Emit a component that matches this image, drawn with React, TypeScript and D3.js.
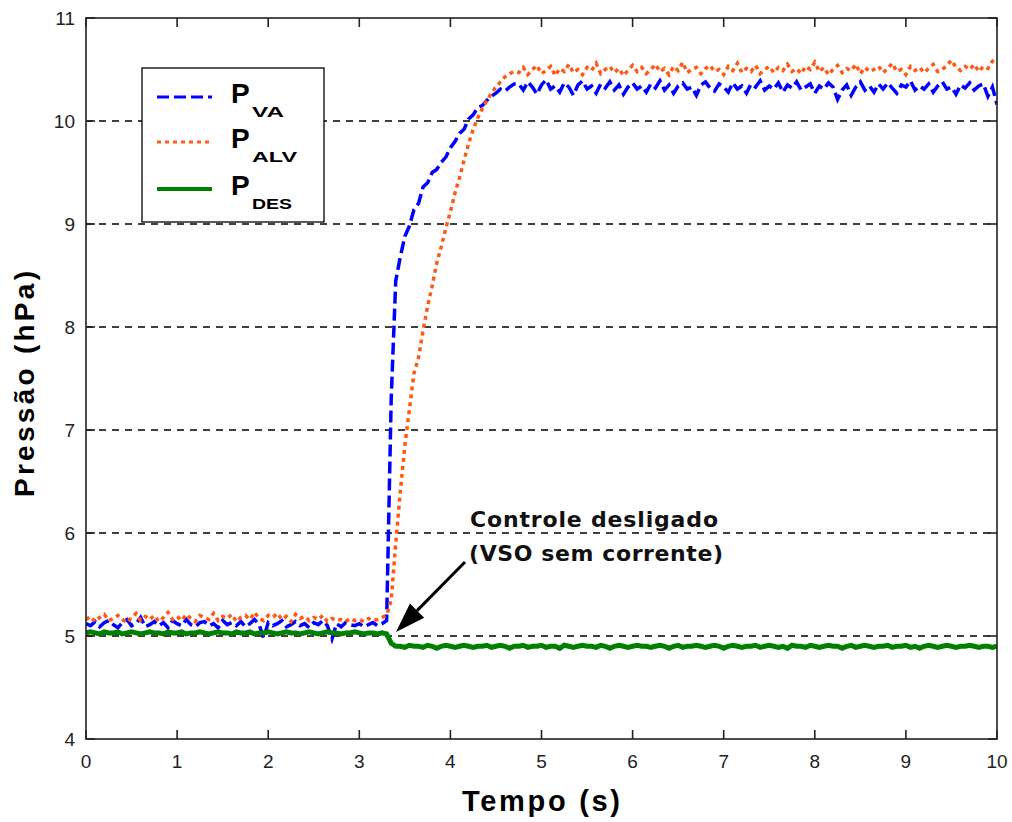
import React from 'react';
import * as d3 from 'd3';

// ---- data ----
const SAMPLE_STEP = 0.05; // s between samples
const X_TICKS = [0, 1, 2, 3, 4, 5, 6, 7, 8, 9, 10];
const Y_TICKS = [4, 5, 6, 7, 8, 9, 10, 11];
const GRID_LEVELS = [5, 6, 7, 8, 9, 10];

const P_VA = [
  5.12, 5.10, 5.14, 5.09, 5.13, 5.15, 5.11, 5.08, 5.13, 5.16,
  5.10, 5.12, 5.18, 5.09, 5.11, 5.14, 5.10, 5.13, 5.08, 5.15,
  5.12, 5.10, 5.16, 5.11, 5.09, 5.13, 5.14, 5.10, 5.12, 5.08,
  5.15, 5.11, 5.13, 5.10, 5.14, 5.09, 5.12, 5.16, 5.11, 4.98,
  5.13, 5.10, 5.12, 5.15, 5.09, 5.11, 5.14, 5.10, 5.12, 5.08,
  5.13, 5.11, 5.15, 5.10, 4.97, 5.12, 5.09, 5.13, 5.11, 5.10,
  5.12, 5.09, 5.11, 5.13, 5.10, 5.12,
  5.15, 7.30, 8.45, 8.68, 8.88, 8.98, 9.14, 9.20, 9.36, 9.40,
  9.50, 9.53, 9.60, 9.65, 9.74, 9.80, 9.88, 9.92, 10.02, 10.06,
  10.13, 10.15, 10.20, 10.24, 10.27, 10.31, 10.29, 10.33, 10.36,
  10.36, 10.30, 10.38, 10.33, 10.26, 10.35, 10.40, 10.31, 10.34, 10.28,
  10.37, 10.33, 10.25, 10.35, 10.39, 10.31, 10.34, 10.27, 10.36, 10.32,
  10.38, 10.30, 10.35, 10.26, 10.33, 10.37, 10.31, 10.34, 10.28, 10.36,
  10.32, 10.39, 10.30, 10.35, 10.27, 10.34, 10.37, 10.31, 10.33, 10.25,
  10.35, 10.38, 10.32, 10.29, 10.36, 10.33, 10.28, 10.37, 10.31, 10.34,
  10.27, 10.36, 10.33, 10.39, 10.30, 10.34, 10.31, 10.37, 10.28, 10.35,
  10.32, 10.38, 10.30, 10.33, 10.36, 10.27, 10.34, 10.31, 10.37, 10.33,
  10.21, 10.30, 10.35, 10.25, 10.33, 10.38, 10.30, 10.34, 10.28, 10.36,
  10.31, 10.37, 10.32, 10.27, 10.35, 10.33, 10.39, 10.30, 10.34, 10.31,
  10.36, 10.28, 10.34, 10.38, 10.31, 10.33, 10.26, 10.35, 10.32, 10.37,
  10.30, 10.34, 10.36, 10.24, 10.33, 10.16,
];

const P_ALV = [
  5.16, 5.19, 5.14, 5.18, 5.21, 5.15, 5.17, 5.20, 5.16, 5.13,
  5.18, 5.22, 5.15, 5.19, 5.16, 5.20, 5.14, 5.18, 5.23, 5.16,
  5.19, 5.15, 5.21, 5.17, 5.14, 5.20, 5.18, 5.16, 5.22, 5.15,
  5.19, 5.17, 5.21, 5.14, 5.18, 5.20, 5.16, 5.23, 5.17, 5.15,
  5.20, 5.18, 5.22, 5.16, 5.19, 5.14, 5.21, 5.17, 5.19, 5.15,
  5.18, 5.16, 5.20, 5.14, 5.17, 5.15, 5.16, 5.14, 5.17, 5.15,
  5.16, 5.14, 5.17, 5.15, 5.16, 5.18,
  5.20, 5.35, 5.90, 6.40, 6.85, 7.20, 7.55, 7.70, 7.97, 8.20,
  8.40, 8.62, 8.78, 8.96, 9.12, 9.30, 9.45, 9.62, 9.78, 9.92,
  10.03, 10.12, 10.20, 10.27, 10.33, 10.38, 10.43, 10.46, 10.48,
  10.47, 10.52, 10.45, 10.50, 10.54, 10.46, 10.49, 10.53, 10.44, 10.51,
  10.48, 10.55, 10.47, 10.50, 10.45, 10.52, 10.49, 10.56, 10.46, 10.50,
  10.53, 10.47, 10.51, 10.44, 10.49, 10.54, 10.48, 10.52, 10.46, 10.50,
  10.55, 10.48, 10.51, 10.45, 10.53, 10.49, 10.57, 10.47, 10.50, 10.52,
  10.46, 10.51, 10.54, 10.48, 10.50, 10.45, 10.53, 10.49, 10.56, 10.47,
  10.51, 10.48, 10.54, 10.46, 10.50, 10.53, 10.47, 10.52, 10.49, 10.55,
  10.48, 10.51, 10.46, 10.53, 10.50, 10.57, 10.48, 10.52, 10.45, 10.50,
  10.54, 10.47, 10.51, 10.49, 10.55, 10.46, 10.52, 10.48, 10.50, 10.53,
  10.47, 10.51, 10.56, 10.48, 10.50, 10.45, 10.53, 10.49, 10.52, 10.47,
  10.51, 10.55, 10.48, 10.50, 10.54, 10.59, 10.52, 10.49, 10.53, 10.50,
  10.55, 10.48, 10.53, 10.51, 10.58, 10.62,
];

const P_DES = [
  5.03, 5.04, 5.03, 5.02, 5.04, 5.03, 5.03, 5.04, 5.02, 5.03,
  5.04, 5.03, 5.02, 5.03, 5.04, 5.03, 5.03, 5.02, 5.04, 5.03,
  5.03, 5.04, 5.02, 5.03, 5.03, 5.04, 5.03, 5.02, 5.03, 5.04,
  5.03, 5.03, 5.02, 5.04, 5.03, 5.03, 5.04, 5.02, 5.03, 5.03,
  5.04, 5.03, 5.02, 5.03, 5.04, 5.03, 5.03, 5.02, 5.03, 5.04,
  5.03, 5.02, 5.03, 5.04, 5.03, 5.03, 5.02, 5.03, 5.03, 5.04,
  5.03, 5.02, 5.03, 5.03, 5.02, 5.03,
  5.02, 4.93, 4.90,
  4.90, 4.89, 4.91, 4.90, 4.90, 4.89, 4.91, 4.90, 4.88, 4.90,
  4.91, 4.90, 4.89, 4.90, 4.91, 4.90, 4.89, 4.90, 4.90, 4.91,
  4.89, 4.90, 4.91, 4.90, 4.88, 4.90, 4.90, 4.91, 4.89, 4.90,
  4.90, 4.91, 4.89, 4.90, 4.90, 4.88, 4.91, 4.90, 4.89, 4.90,
  4.91, 4.90, 4.90, 4.89, 4.91, 4.90, 4.88, 4.90, 4.91, 4.90,
  4.89, 4.90, 4.91, 4.90, 4.90, 4.89, 4.90, 4.91, 4.90, 4.88,
  4.90, 4.91, 4.89, 4.90, 4.90, 4.91, 4.90, 4.89, 4.90, 4.91,
  4.90, 4.88, 4.90, 4.91, 4.90, 4.89, 4.90, 4.90, 4.91, 4.89,
  4.90, 4.91, 4.90, 4.89, 4.90, 4.88, 4.91, 4.90, 4.90, 4.89,
  4.91, 4.90, 4.89, 4.90, 4.91, 4.90, 4.90, 4.88, 4.90, 4.91,
  4.89, 4.90, 4.91, 4.90, 4.89, 4.90, 4.90, 4.91, 4.89, 4.90,
  4.90, 4.91, 4.89, 4.90, 4.88, 4.90, 4.91, 4.90, 4.89, 4.90,
  4.91, 4.90, 4.89, 4.90, 4.90, 4.91, 4.90, 4.89, 4.90, 4.90,
  4.89, 4.90,
];

const SERIES = [
  { name: 'VA', values: P_VA, color: '#0000ff', dash: '12,5', width: 3.5, lw: 3 },
  { name: 'ALV', values: P_ALV, color: '#ff5a14', dash: '4,4', width: 3.5, lw: 3 },
  { name: 'DES', values: P_DES, color: '#007f00', dash: null as string | null, width: 5, lw: 4 },
];

const X_LABEL = 'Tempo (s)';
const Y_LABEL = 'Pressão (hPa)';
const NOTE_1 = 'Controle desligado';
const NOTE_2 = '(VSO sem corrente)';

export default function App() {
  const W = 1012, H = 822;
  const x = d3.scaleLinear().domain([0, 10]).range([86, 997]);
  const y = d3.scaleLinear().domain([4, 11]).range([739, 18]);
  const [x0, x1] = x.range();
  const [yb, yt] = y.range();
  const axisColor = '#222';
  const tickLen = 9;
  const mk = (vals: number[]) =>
    d3.line<number>()
      .x((_, i) => x(i * SAMPLE_STEP))
      .y((v) => y(v))(vals) || '';

  const sans = '"Liberation Sans", Arial, sans-serif';
  const dv = '"DejaVu Sans", sans-serif';

  // arrow geometry
  const ax0 = 465, ay0 = 562, ax1 = 396, ay1 = 632;
  const ang = Math.atan2(ay1 - ay0, ax1 - ax0);
  const hl = 30, hw = 10;
  const bx = ax1 - hl * Math.cos(ang), by = ay1 - hl * Math.sin(ang);
  const head = [
    [ax1, ay1],
    [bx + hw * Math.sin(ang), by - hw * Math.cos(ang)],
    [bx - hw * Math.sin(ang), by + hw * Math.cos(ang)],
  ];

  const legendRows = [97, 142, 189];

  return (
    <svg width={W} height={H} style={{ position: 'absolute', left: 0, top: 0, background: '#fff' }}>
      <defs>
        <clipPath id="plot">
          <rect x={x0} y={yt} width={x1 - x0} height={yb - yt} />
        </clipPath>
      </defs>
      <rect x={0} y={0} width={W} height={H} fill="#fff" />

      {/* grid */}
      {GRID_LEVELS.map((g) => (
        <line key={g} x1={x0} x2={x1} y1={y(g)} y2={y(g)} stroke="#000" strokeWidth={1.5} strokeDasharray="7,6" />
      ))}

      {/* series */}
      <g clipPath="url(#plot)">
        {SERIES.map((s) => (
          <path key={s.name} d={mk(s.values)} fill="none" stroke={s.color} strokeWidth={s.width}
            strokeDasharray={s.dash || undefined} />
        ))}
      </g>

      {/* box + ticks */}
      <rect x={x0} y={yt} width={x1 - x0} height={yb - yt} fill="none" stroke={axisColor} strokeWidth={1.6} />
      {X_TICKS.map((t) => (
        <g key={'xt' + t}>
          <line x1={x(t)} x2={x(t)} y1={yb} y2={yb - tickLen} stroke={axisColor} strokeWidth={1.6} />
          <line x1={x(t)} x2={x(t)} y1={yt} y2={yt + tickLen} stroke={axisColor} strokeWidth={1.6} />
          <text x={x(t)} y={768} textAnchor="middle" fontFamily={sans} fontSize={19} fill="#222">{t}</text>
        </g>
      ))}
      {Y_TICKS.map((t) => (
        <g key={'yt' + t}>
          <line x1={x0} x2={x0 + tickLen} y1={y(t)} y2={y(t)} stroke={axisColor} strokeWidth={1.6} />
          <line x1={x1} x2={x1 - tickLen} y1={y(t)} y2={y(t)} stroke={axisColor} strokeWidth={1.6} />
          <text x={75} y={y(t) + 7} textAnchor="end" fontFamily={sans} fontSize={19} fill="#222">{t}</text>
        </g>
      ))}

      {/* axis titles */}
      <text x={541} y={811} textAnchor="middle" fontFamily={sans} fontWeight="bold" fontSize={29}
        textLength={158} lengthAdjust="spacing" fill="#000">{X_LABEL}</text>
      <text transform="translate(34,384) rotate(-90)" textAnchor="middle" fontFamily={sans} fontWeight="bold"
        fontSize={28} textLength={226} lengthAdjust="spacing" fill="#000">{Y_LABEL}</text>

      {/* legend */}
      <rect x={142} y={68} width={182} height={154} fill="#fff" stroke="#000" strokeWidth={1.3} />
      {SERIES.map((s, i) => (
        <g key={'lg' + s.name}>
          <line x1={157} x2={212} y1={legendRows[i]} y2={legendRows[i]} stroke={s.color}
            strokeWidth={s.lw} strokeDasharray={s.dash || undefined} />
          <text x={231} y={legendRows[i] + 6} fontFamily={sans} fontWeight="bold" fontSize={28} fill="#000">P</text>
          <text x={252} y={legendRows[i] + 20} fontFamily={sans} fontWeight="bold" fontSize={15}
            textLength={[32, 45, 40][i]} lengthAdjust="spacingAndGlyphs" fill="#000">{s.name}</text>
        </g>
      ))}

      {/* annotation */}
      <text x={470} y={527} fontFamily={dv} fontWeight="bold" fontSize={22} textLength={248}
        lengthAdjust="spacing" fill="#111">{NOTE_1}</text>
      <text x={469} y={561} fontFamily={dv} fontWeight="bold" fontSize={22} textLength={254}
        lengthAdjust="spacing" fill="#111">{NOTE_2}</text>
      <line x1={ax0} y1={ay0} x2={bx} y2={by} stroke="#000" strokeWidth={3} />
      <polygon points={head.map((p) => p.join(',')).join(' ')} fill="#000" />
    </svg>
  );
}
